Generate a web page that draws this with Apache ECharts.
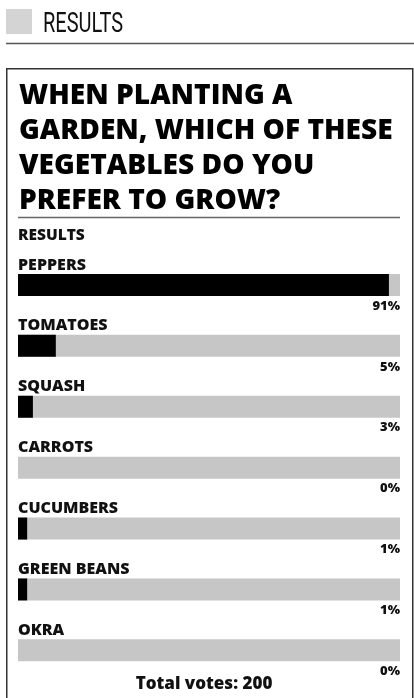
<!DOCTYPE html>
<html>
<head>
<meta charset="utf-8">
<script src="https://cdn.jsdelivr.net/npm/echarts@6/dist/echarts.min.js"></script>
<style>
html,body{margin:0;padding:0;background:#fff;}
#chart{width:414px;height:698px;}
</style>
</head>
<body>
<div id="chart"></div>
<script>
// ---- data ----
const categories = ['PEPPERS', 'TOMATOES', 'SQUASH', 'CARROTS', 'CUCUMBERS', 'GREEN BEANS', 'OKRA'];
const percentLabels = ['91%', '5%', '3%', '0%', '1%', '1%', '0%'];
const filledShare = [97.1, 9.9, 3.9, 0, 2.4, 2.4, 0];   // black fill, % of track width
const trackFull = [100, 100, 100, 100, 100, 100, 100];
const titleLines = ['WHEN PLANTING A', 'GARDEN, WHICH OF THESE', 'VEGETABLES DO YOU', 'PREFER TO GROW?'];
const headerText = 'RESULTS';
const subHeader = 'RESULTS';
const totalVotesText = 'Total votes: 200';

const FONT = '"Open Sans", "DejaVu Sans", sans-serif';

const chart = echarts.init(document.getElementById('chart'), null, {renderer: 'canvas'});

const option = {
  animation: false,
  backgroundColor: '#ffffff',
  grid: {left: 18, right: 14, top: 254.5, height: 426.3, containLabel: false},
  xAxis: {type: 'value', min: 0, max: 100, show: false},
  yAxis: {type: 'category', data: categories, inverse: true, show: false},
  series: [
    {
      name: 'track', type: 'bar', data: trackFull, barWidth: 22, barGap: '-100%',
      itemStyle: {color: '#c6c6c6'}, silent: true,
      label: {
        show: true, position: [0, -9], align: 'left', verticalAlign: 'middle',
        formatter: p => categories[p.dataIndex],
        fontFamily: FONT, fontWeight: 800, fontSize: 16, color: '#111'
      }
    },
    {
      name: 'share', type: 'bar', data: filledShare, barWidth: 22, barGap: '-100%',
      itemStyle: {color: '#000000'}, silent: true, z: 3
    },
    {
      name: 'pct', type: 'bar', data: trackFull, barWidth: 22, barGap: '-100%',
      itemStyle: {color: 'rgba(0,0,0,0)'}, silent: true, z: 4,
      label: {
        show: true, position: ['100%', 32], align: 'right', verticalAlign: 'middle',
        formatter: p => percentLabels[p.dataIndex],
        fontFamily: FONT, fontWeight: 800, fontSize: 13, color: '#111'
      }
    }
  ],
  graphic: [
    {type: 'rect', shape: {x: 6, y: 9, width: 26, height: 25}, style: {fill: '#d4d4d4'}},
    {type: 'text', x: 43, y: 25, scaleX: 0.74, style: {text: headerText, font: 'normal 27px Roboto, "Open Sans", sans-serif', fill: '#111', textVerticalAlign: 'middle'}},
    {type: 'line', shape: {x1: 6, y1: 43.5, x2: 414, y2: 43.5}, style: {stroke: '#555', lineWidth: 1.5}},
    {type: 'rect', shape: {x: 6.75, y: 68.75, width: 406, height: 660}, style: {fill: 'none', stroke: '#333', lineWidth: 1.5}},
    {type: 'text', x: 19, y: 78, scaleX: 0.97, style: {text: titleLines.join('\n'), font: '800 29px ' + FONT, lineHeight: 35, fill: '#000', textVerticalAlign: 'top'}},
    {type: 'line', shape: {x1: 18, y1: 217.5, x2: 400, y2: 217.5}, style: {stroke: '#666', lineWidth: 1.5}},
    {type: 'text', x: 18, y: 236, style: {text: subHeader, font: '800 15.5px ' + FONT, fill: '#111', textVerticalAlign: 'middle'}},
    {type: 'text', x: 204, y: 684, style: {text: totalVotesText, font: '800 17px ' + FONT, fill: '#111', textAlign: 'center', textVerticalAlign: 'middle'}}
  ]
};
chart.setOption(option);
</script>
</body>
</html>
